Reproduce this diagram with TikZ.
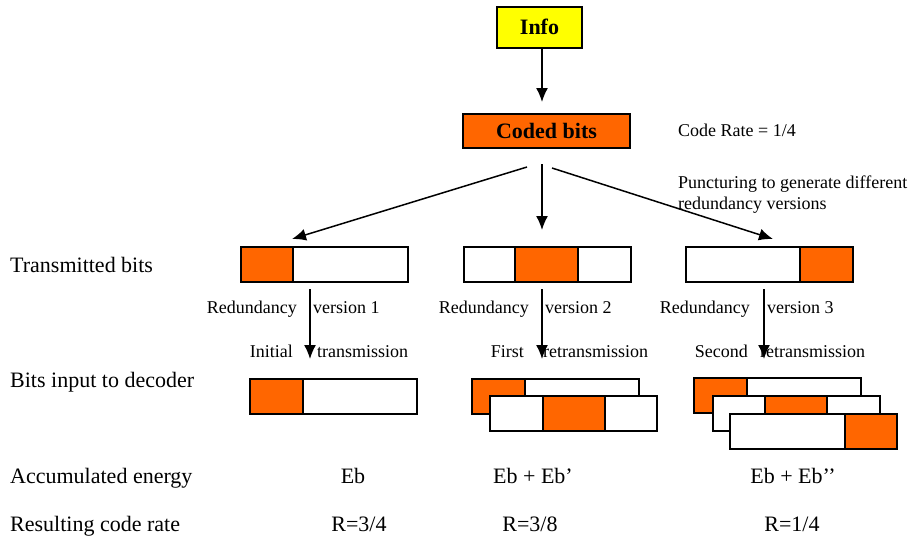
\documentclass[tikz,border=0pt]{standalone}
\usepackage{fontspec}
\setmainfont{Liberation Serif}
\usetikzlibrary{arrows.meta}
\definecolor{orng}{HTML}{FF6600}
\definecolor{yel}{HTML}{FFFF00}
\begin{document}
\begin{tikzpicture}[x=1pt,y=-1pt,
  big/.style={inner sep=0pt,font=\fontsize{22}{26}\selectfont,text height=14.5pt,text depth=0pt},
  small/.style={inner sep=0pt,font=\fontsize{18}{22}\selectfont,text height=12pt,text depth=0pt},
  bar/.style={draw,line width=2.2pt,fill=white,minimum height=35pt,minimum width=167pt,inner sep=0pt,anchor=north west},
  seg/.style={draw,line width=2.2pt,fill=orng,minimum height=35pt,inner sep=0pt,anchor=north west},
  topbox/.style={draw,line width=2pt,inner sep=0pt,font=\bfseries\fontsize{22}{26}\selectfont,text height=14.5pt,text depth=0pt},
  arr/.style={line width=1.5pt,-{Latex[length=14pt,width=12pt]}}]
\useasboundingbox (0,0) rectangle (916,539);

% top boxes
\node[topbox,fill=yel,minimum width=85pt,minimum height=41pt] (info) at (539.5,27.5) {Info};
\node[topbox,fill=orng,minimum width=167pt,minimum height=34pt] (coded) at (546.5,131) {Coded bits};
\draw[arr] ([xshift=2.5pt]info.south) -- ([xshift=-4.5pt,yshift=11pt]coded.north);

% side notes
\node[small,anchor=west] (rate) at (678,130) {Code Rate = 1/4};
\node[small,anchor=west] (punc1) at (678,182) {Puncturing to generate different};
\node[small,anchor=west] (punc2) at (678,203) {redundancy versions};

% transmitted bits
\node[bar] (tb1) at (240,246) {};
\node[seg,minimum width=52pt] (tb1o) at (240,246) {};
\node[bar] (tb2) at (463,246) {};
\node[seg,minimum width=63pt] (tb2o) at (514,246) {};
\node[bar] (tb3) at (685,246) {};
\node[seg,minimum width=53pt] (tb3o) at (799,246) {};

% arrows from coded bits
\coordinate (cl) at (527,167);
\coordinate (cm) at (542,164);
\coordinate (cr) at (552,168);
\coordinate (el) at (292,239);
\coordinate (em) at (542,230);
\coordinate (er) at (773,239);
\draw[arr] (cl) -- (el);
\draw[arr] (cm) -- (em);
\draw[arr] (cr) -- (er);

% row labels
\node[big,anchor=west] (l1) at (10,265) {Transmitted bits};
\node[big,anchor=west] (l2) at (10,380) {Bits input to decoder};
\node[big,anchor=west] (l3) at (10,476) {Accumulated energy};
\node[big,anchor=west] (l4) at (10,524) {Resulting code rate};

% redundancy labels
\node[small,anchor=east] (r1a) at (297,307) {Redundancy};
\node[small,anchor=west] (r1b) at (313,307) {version 1};
\node[small,anchor=east] (r2a) at (529,307) {Redundancy};
\node[small,anchor=west] (r2b) at (545,307) {version 2};
\node[small,anchor=east] (r3a) at (750,307) {Redundancy};
\node[small,anchor=west] (r3b) at (767,307) {version 3};

\node[small,anchor=east] (s1a) at (293,351) {Initial};
\node[small,anchor=west] (s1b) at (317,351) {transmission};
\node[small,anchor=east] (s2a) at (524,351) {First};
\node[small,anchor=west] (s2b) at (543,351) {retransmission};
\node[small,anchor=east] (s3a) at (748,351) {Second};
\node[small,anchor=west] (s3b) at (760,351) {retransmission};

% vertical arrows
\coordinate (v1a) at (310,289); \coordinate (v1b) at (310,359);
\coordinate (v2a) at (542,289); \coordinate (v2b) at (542,359);
\coordinate (v3a) at (764,289); \coordinate (v3b) at (764,359);
\draw[arr] (v1a) -- (v1b);
\draw[arr] (v2a) -- (v2b);
\draw[arr] (v3a) -- (v3b);

% decoder input
\node[bar] (d1) at (249,378) {};
\node[seg,minimum width=53pt] (d1o) at (249,378) {};

\node[bar] (d2a) at (471,378) {};
\node[seg,minimum width=53pt] (d2ao) at (471,378) {};
\node[bar] (d2b) at (489,395) {};
\node[seg,minimum width=62pt] (d2bo) at (542,395) {};

\node[bar] (d3a) at (693,377) {};
\node[seg,minimum width=53pt] (d3ao) at (693,377) {};
\node[bar] (d3b) at (712,395) {};
\node[seg,minimum width=62pt] (d3bo) at (764,395) {};
\node[bar] (d3c) at (729,413) {};
\node[seg,minimum width=52pt] (d3co) at (844,413) {};

% energy and rates
\node[big] (e1) at (353,476) {Eb};
\node[big] (e2) at (533,476) {Eb + Eb’};
\node[big] (e3) at (793,476) {Eb + Eb’’};
\node[big] (q1) at (359,524) {R=3/4};
\node[big] (q2) at (530,524) {R=3/8};
\node[big] (q3) at (792,524) {R=1/4};
\end{tikzpicture}
\end{document}
